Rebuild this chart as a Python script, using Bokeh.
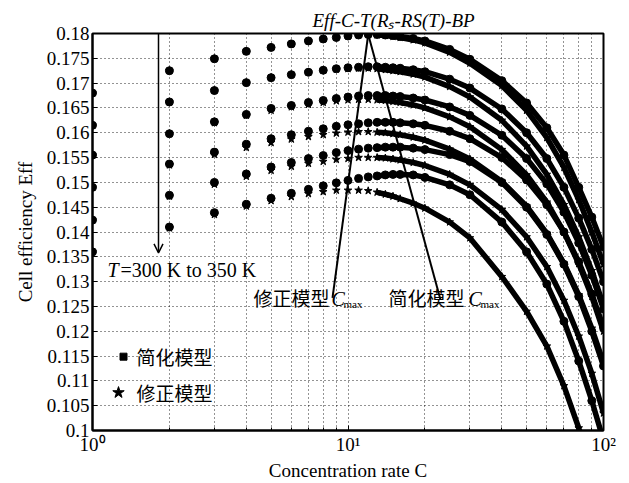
import math
from bokeh.plotting import figure
from bokeh.models import Range1d, FixedTicker, Label, Arrow, OpenHead, ColumnDataSource
from bokeh.embed import file_html
from bokeh.resources import INLINE

# ---------------- data ----------------
conc = [1, 2, 3, 4, 5, 6, 7, 8, 9, 10, 11, 12, 13, 14, 15, 16, 18, 20, 25, 30, 40, 50, 60, 70, 80, 90, 100]
temps = [300, 310, 320, 330, 340, 350]

# simplified model (dots)
s300 = [0.1680, 0.1725, 0.1749, 0.1764, 0.1772, 0.1779, 0.1785, 0.1789, 0.1792, 0.1795, 0.1797, 0.1798, 0.1798, 0.1797, 0.1796, 0.1794, 0.1790, 0.1785, 0.1768, 0.1748, 0.1705, 0.1660, 0.1610, 0.1555, 0.1490, 0.1430, 0.1370]
s310 = [0.1615, 0.1662, 0.1685, 0.1701, 0.1711, 0.1717, 0.1722, 0.1726, 0.1729, 0.1731, 0.1732, 0.1733, 0.1733, 0.1732, 0.1731, 0.1730, 0.1727, 0.1723, 0.1708, 0.1690, 0.1648, 0.1600, 0.1548, 0.1490, 0.1428, 0.1365, 0.1300]
s320 = [0.1555, 0.1598, 0.1622, 0.1637, 0.1649, 0.1655, 0.1661, 0.1665, 0.1669, 0.1672, 0.1674, 0.1675, 0.1675, 0.1675, 0.1674, 0.1673, 0.1670, 0.1666, 0.1652, 0.1635, 0.1595, 0.1548, 0.1497, 0.1440, 0.1378, 0.1313, 0.1245]
s330 = [0.1490, 0.1537, 0.1561, 0.1577, 0.1588, 0.1596, 0.1603, 0.1608, 0.1613, 0.1616, 0.1618, 0.1620, 0.1621, 0.1621, 0.1621, 0.1620, 0.1618, 0.1615, 0.1603, 0.1588, 0.1550, 0.1505, 0.1455, 0.1400, 0.1340, 0.1275, 0.1208]
s340 = [0.1424, 0.1474, 0.1500, 0.1517, 0.1531, 0.1540, 0.1548, 0.1554, 0.1560, 0.1564, 0.1567, 0.1569, 0.1570, 0.1571, 0.1571, 0.1571, 0.1569, 0.1566, 0.1556, 0.1542, 0.1500, 0.1450, 0.1395, 0.1335, 0.1270, 0.1200, 0.1130]
s350 = [0.1360, 0.1410, 0.1439, 0.1456, 0.1468, 0.1478, 0.1486, 0.1493, 0.1499, 0.1504, 0.1508, 0.1511, 0.1513, 0.1515, 0.1516, 0.1516, 0.1515, 0.1510, 0.1495, 0.1475, 0.1420, 0.1360, 0.1295, 0.1220, 0.1140, 0.1060, 0.0980]

# corrected model (stars)
m300 = [0.1680, 0.1725, 0.1749, 0.1764, 0.1772, 0.1779, 0.1785, 0.1789, 0.1792, 0.1795, 0.1797, 0.1798, 0.1797, 0.1796, 0.1794, 0.1792, 0.1787, 0.1781, 0.1762, 0.1740, 0.1695, 0.1645, 0.1590, 0.1530, 0.1465, 0.1400, 0.1335]
m310 = [0.1615, 0.1662, 0.1685, 0.1701, 0.1711, 0.1717, 0.1722, 0.1726, 0.1728, 0.1729, 0.1730, 0.1730, 0.1729, 0.1727, 0.1725, 0.1723, 0.1718, 0.1712, 0.1693, 0.1672, 0.1625, 0.1573, 0.1516, 0.1455, 0.1390, 0.1322, 0.1252]
m320 = [0.1555, 0.1598, 0.1620, 0.1635, 0.1645, 0.1652, 0.1657, 0.1661, 0.1664, 0.1666, 0.1667, 0.1667, 0.1666, 0.1665, 0.1663, 0.1661, 0.1656, 0.1650, 0.1632, 0.1612, 0.1566, 0.1515, 0.1460, 0.1400, 0.1336, 0.1270, 0.1200]
m330 = [0.1490, 0.1535, 0.1556, 0.1570, 0.1580, 0.1587, 0.1592, 0.1596, 0.1599, 0.1601, 0.1602, 0.1602, 0.1601, 0.1600, 0.1598, 0.1596, 0.1591, 0.1585, 0.1567, 0.1547, 0.1502, 0.1452, 0.1397, 0.1337, 0.1273, 0.1206, 0.1136]
m340 = [0.1424, 0.1472, 0.1496, 0.1512, 0.1524, 0.1532, 0.1538, 0.1542, 0.1546, 0.1548, 0.1550, 0.1550, 0.1550, 0.1549, 0.1547, 0.1545, 0.1540, 0.1534, 0.1516, 0.1495, 0.1445, 0.1390, 0.1330, 0.1262, 0.1190, 0.1115, 0.1035]
m350 = [0.1360, 0.1408, 0.1435, 0.1452, 0.1463, 0.1471, 0.1477, 0.1481, 0.1484, 0.1484, 0.1484, 0.1483, 0.1480, 0.1476, 0.1472, 0.1467, 0.1458, 0.1448, 0.1420, 0.1388, 0.1310, 0.1240, 0.1170, 0.1090, 0.1005, 0.0920, 0.0830]

simplified = [s300, s310, s320, s330, s340, s350]
corrected = [m300, m310, m320, m330, m340, m350]

y_ticks = [0.1, 0.105, 0.11, 0.115, 0.12, 0.125, 0.13, 0.135, 0.14, 0.145, 0.15, 0.155, 0.16, 0.165, 0.17, 0.175, 0.18]
y_tick_labels = ["0.1", "0.105", "0.11", "0.115", "0.12", "0.125", "0.13", "0.135", "0.14", "0.145", "0.15", "0.155", "0.16", "0.165", "0.17", "0.175", "0.18"]
x_ticks = [1, 10, 100]
x_tick_labels = ["10\u2070", "10\u00b9", "10\u00b2"]
x_minor = [2, 3, 4, 5, 6, 7, 8, 9, 20, 30, 40, 50, 60, 70, 80, 90]
c_peak = 12  # concentration of the common maximum (300 K)

title_text = "Eff-C-T(R\u209b-RS(T)-BP"
x_label = "Concentration rate C"
y_label = "Cell efficiency Eff"

# ---------------- layout ----------------
W, H = 629, 483
FL, FR, FT, FB = 92, 603, 33, 431
XMIN, XMAX, YMIN, YMAX = 1, 100, 0.1, 0.18


def dx(px):
    return 10 ** ((px - FL) / (FR - FL) * math.log10(XMAX / XMIN)) * XMIN


def dy(py):
    return YMAX - (py - FT) / (FB - FT) * (YMAX - YMIN)


SERIF = "Liberation Serif"
CJK = "Noto Sans CJK SC"

p = figure(width=W, height=H, x_axis_type="log",
           x_range=Range1d(XMIN, XMAX), y_range=Range1d(YMIN, YMAX),
           output_backend="svg", toolbar_location=None,
           min_border_left=FL, min_border_right=W - FR,
           min_border_top=FT, min_border_bottom=H - FB,
           title=title_text)
p.title.align = "left"
p.title.offset = 312 - FL
p.title.text_font = SERIF
p.title.text_font_size = "19px"
p.title.text_font_style = "italic"
p.title.text_color = "black"
p.title.standoff = 6
p.background_fill_color = "white"
p.border_fill_color = "white"
p.outline_line_color = "black"
p.outline_line_width = 2

# axes
p.xaxis.ticker = FixedTicker(ticks=x_ticks, minor_ticks=x_minor)
p.xaxis.major_label_overrides = {t: l for t, l in zip(x_ticks, x_tick_labels)}
p.yaxis.ticker = FixedTicker(ticks=y_ticks)
p.yaxis.major_label_overrides = {t: l for t, l in zip(y_ticks, y_tick_labels)}
for ax in (p.xaxis[0], p.yaxis[0]):
    ax.axis_line_color = "black"
    ax.axis_line_width = 2
    ax.major_tick_in = 5
    ax.major_tick_out = 0
    ax.minor_tick_in = 3
    ax.minor_tick_out = 0
    ax.major_tick_line_color = "black"
    ax.minor_tick_line_color = "black"
    ax.major_label_text_font = SERIF
    ax.major_label_text_font_size = "19px"
    ax.major_label_text_color = "black"
    ax.axis_label_text_font = SERIF
    ax.axis_label_text_font_size = "19px"
    ax.axis_label_text_font_style = "normal"
    ax.axis_label_text_color = "black"
p.xaxis.axis_label = x_label
p.yaxis.axis_label = y_label
p.yaxis.major_label_standoff = 3
p.xaxis.major_label_standoff = 3
p.xaxis.axis_label_standoff = 2
p.yaxis.axis_label_standoff = 8

# grid
for g in (p.xgrid[0], p.ygrid[0]):
    g.grid_line_color = "black"
    g.grid_line_dash = "1 3"
    g.grid_line_width = 1
    g.grid_line_alpha = 0.85
p.xgrid.minor_grid_line_color = "black"
p.xgrid.minor_grid_line_dash = "1 3"
p.xgrid.minor_grid_line_alpha = 0.85

# curves
i0 = conc.index(13)
for s, m in zip(simplified, corrected):
    p.line(conc[i0:], m[i0:], line_width=5.5, line_color="black")
    p.line(conc[i0:], s[i0:], line_width=5.5, line_color="black")
    p.scatter(conc, m, marker="star", size=8, fill_color="black", line_color="black")
    p.scatter(conc, s, marker="circle", size=8, fill_color="black", line_color="black")

# Cmax leader lines (start at the 300 K peak)
peak_eff = max(s300)
lead = ColumnDataSource(dict(x0=[c_peak, c_peak], y0=[peak_eff, peak_eff],
                             x1=[dx(332), dx(440)], y1=[dy(298), dy(300)]))
p.segment("x0", "y0", "x1", "y1", source=lead, line_color="black", line_width=2)

# temperature arrow
p.add_layout(Arrow(end=OpenHead(size=9, line_width=1.5, line_color="black"),
                   x_start=dx(158), y_start=YMAX, x_end=dx(158), y_end=dy(253),
                   line_width=1.5, line_color="black"))


def lab(px, py, text, size="20px", font=SERIF, style="normal", align="left", angle=0.0, baseline="middle"):
    p.add_layout(Label(x=dx(px), y=dy(py), text=text, text_font=font, text_font_size=size,
                       text_font_style=style, text_align=align, text_baseline=baseline,
                       text_color="black", angle=angle))


lab(107, 270, "T", style="italic")
lab(120, 270, "=300 K to 350 K")

# Cmax labels
lab(253, 298, "修正模型", size="19px", font=CJK)
lab(331, 299, "C", style="italic")
lab(343, 304, "max", size="11px")
lab(388, 298, "简化模型", size="19px", font=CJK)
lab(468, 299, "C", style="italic")
lab(480, 304, "max", size="11px")

# legend
p.scatter([dx(123)], [dy(357)], marker="square", size=7, fill_color="black", line_color="black")
p.scatter([dx(118)], [dy(393)], marker="star", size=12, fill_color="black", line_color="black")
lab(136, 357, "简化模型", size="19px", font=CJK)
lab(136, 393, "修正模型", size="19px", font=CJK)

open("out.html", "w").write(file_html(p, INLINE))
